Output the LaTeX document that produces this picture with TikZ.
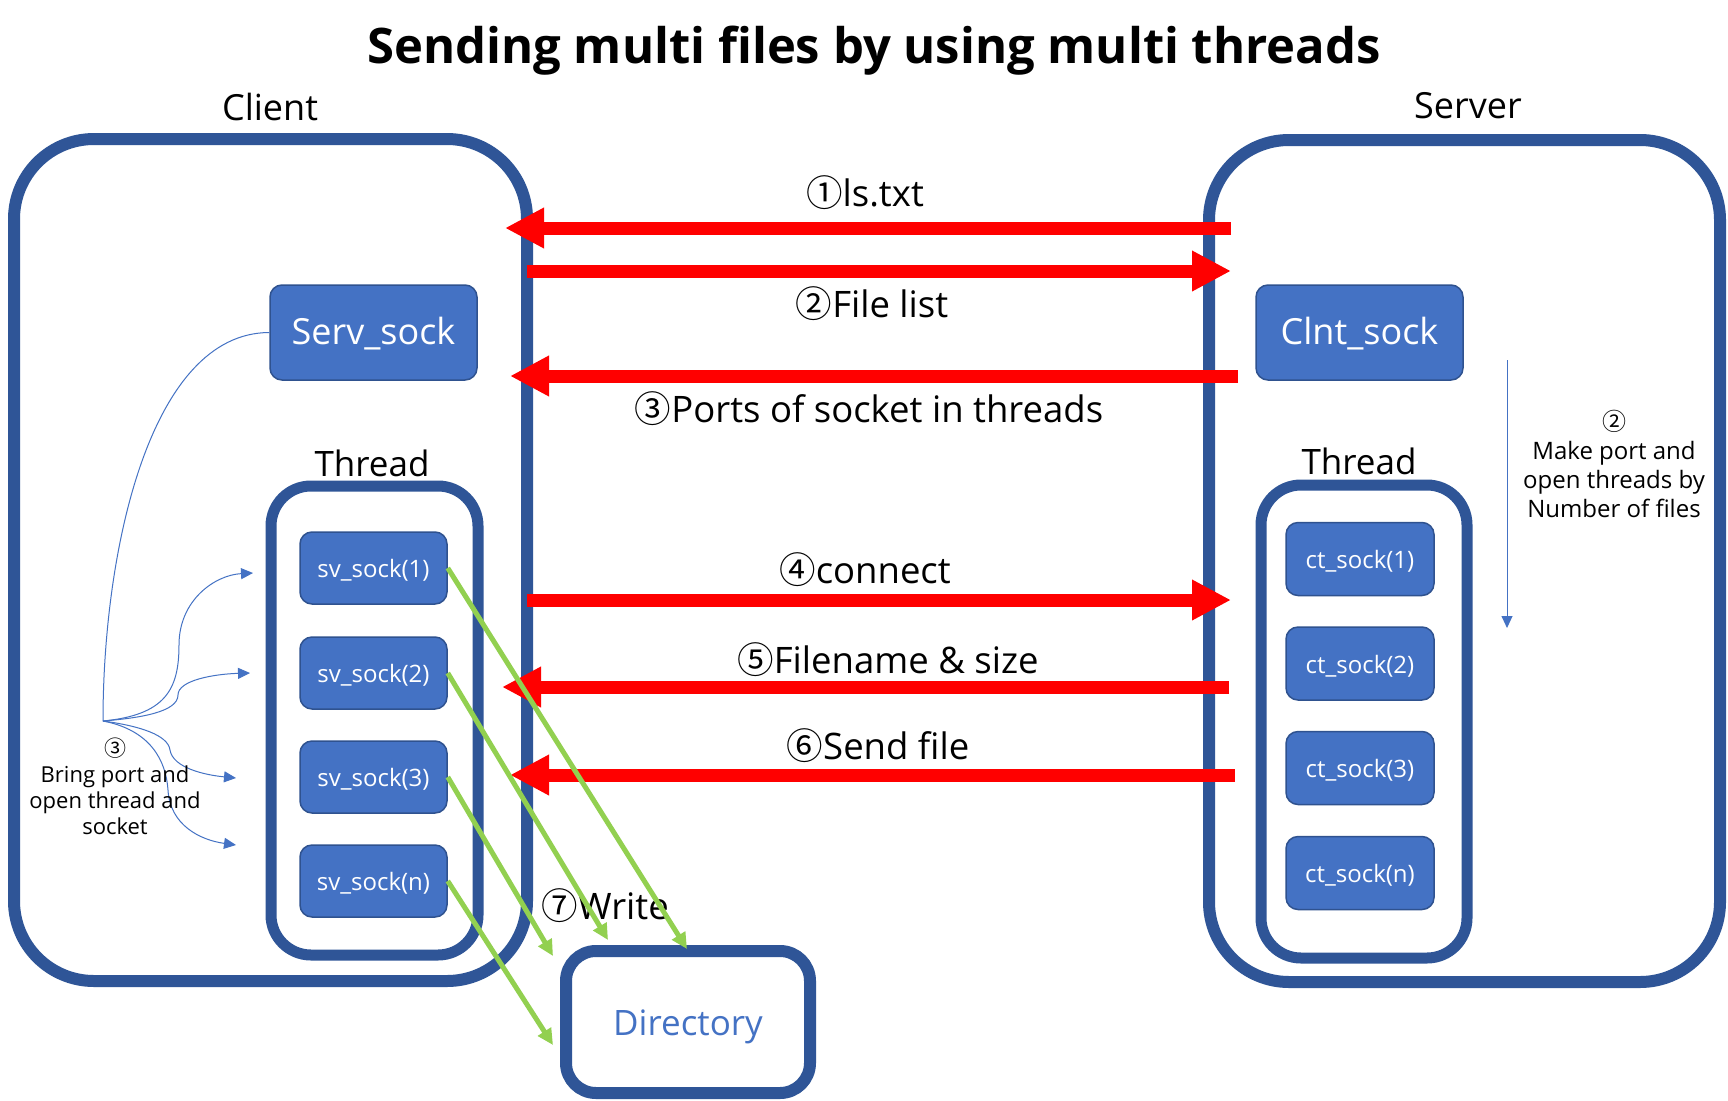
\documentclass[tikz,border=0pt]{standalone}
\usepackage{fontspec}
\setmainfont{Open Sans}
\newfontfamily\cjk{Noto Sans CJK KR}
\usetikzlibrary{arrows.meta}
\definecolor{boxblue}{HTML}{2F5597}
\definecolor{fillblue}{HTML}{4472C4}
\definecolor{edgeblue}{HTML}{2F528F}
\definecolor{lgreen}{HTML}{92D050}
\definecolor{arrred}{HTML}{FF0000}
\newcommand\cn[1]{{\cjk #1}}
\begin{document}
\begin{tikzpicture}[x=1pt,y=-1pt,
  bigbox/.style={draw=boxblue, line width=12pt, rounded corners=80pt, inner sep=0pt},
  thbox/.style={draw=boxblue, line width=11pt, rounded corners=40pt, inner sep=0pt},
  sockbox/.style={draw=edgeblue, fill=fillblue, line width=1.5pt, rounded corners=12pt, text=white, inner sep=0pt},
  smallsock/.style={sockbox, font=\fontsize{24}{28}\selectfont, text height=21pt, text depth=1.5pt},
  bigsock/.style={sockbox, minimum width=207pt, minimum height=95pt, font=\fontsize{36}{40}\selectfont, text height=28pt, text depth=3.4pt},
  dirbox/.style={draw=boxblue, line width=12pt, rounded corners=30pt, inner sep=0pt, text=fillblue, text height=29pt, text depth=1.4pt},
  redarr/.style={draw=arrred, line width=13pt, -{Triangle[length=39pt,width=38pt]}},
  grarr/.style={draw=lgreen, line width=5pt, -{Triangle[length=16pt,width=15pt]}},
  thinarr/.style={draw=fillblue, line width=1pt, -{Triangle[length=12pt,width=11pt]}},
  thinline/.style={draw=fillblue, line width=1pt},
  lbl/.style={font=\fontsize{36.5}{40}\selectfont, inner sep=0pt},
  thlbl/.style={font=\fontsize{35}{40}\selectfont, inner sep=0pt},
  small/.style={font=\fontsize{24}{29}\selectfont, inner sep=0pt, align=center},
]
\useasboundingbox (0,0) rectangle (1728,1100);
\fill[white] (0,0) rectangle (1728,1100);

% title and headings
\node[font=\bfseries\fontsize{49}{55}\selectfont, inner sep=0pt] (title) at (874,51) {Sending multi files by using multi threads};
\node[font=\fontsize{36}{40}\selectfont, inner sep=0pt] (clientlbl) at (270,107) {Client};
\node[font=\fontsize{36}{40}\selectfont, inner sep=0pt] (serverlbl) at (1468,106) {Server};

% big boxes
\node[bigbox, minimum width=513pt, minimum height=842pt] (client) at (270.5,560) {};
\node[bigbox, minimum width=511pt, minimum height=842pt] (server) at (1464.5,561) {};

% sockets
\node[bigsock] (serv) at (373.5,332.5) {Serv\_sock};
\node[bigsock] (clnt) at (1359.5,332.5) {Clnt\_sock};

% thread boxes
\node[thlbl] (thL) at (372,463) {Thread};
\node[thlbl] (thR) at (1359,461) {Thread};
\node[thbox, minimum width=207pt, minimum height=469pt] (threadL) at (374.5,720.5) {};
\node[thbox, minimum width=206pt, minimum height=473pt] (threadR) at (1364,721.5) {};

\foreach \i/\y/\t in {1/568/1,2/673/2,3/777/3,4/881/n}{
  \node[smallsock, minimum width=147pt, minimum height=72pt] (sv\i) at (373.5,\y) {sv\_sock(\t)};
}
\foreach \i/\y/\t in {1/559/1,2/663.5/2,3/768/3,4/873/n}{
  \node[smallsock, minimum width=148pt, minimum height=73pt] (ct\i) at (1360,\y) {ct\_sock(\t)};
}

% directory
\node[dirbox, minimum width=244pt, minimum height=142pt, font=\fontsize{35}{40}\selectfont] (dir) at (688,1022) {Directory};

% red arrows
\coordinate (r1a) at (1231,228); \coordinate (r1b) at (505,228);
\coordinate (r2a) at (527,271);  \coordinate (r2b) at (1231,271);
\coordinate (r3a) at (1238,376); \coordinate (r3b) at (510,376);
\coordinate (r4a) at (527,600);  \coordinate (r4b) at (1231,600);
\coordinate (r5a) at (1229,687); \coordinate (r5b) at (502,687);
\coordinate (r6a) at (1235,775); \coordinate (r6b) at (510,775);
\draw[redarr] (r1a) -- (r1b);
\draw[redarr] (r2a) -- (r2b);
\draw[redarr] (r3a) -- (r3b);
\draw[redarr] (r4a) -- (r4b);
\draw[redarr] (r5a) -- (r5b);
\draw[redarr] (r6a) -- (r6b);

\node[lbl] (l1) at (865,193) {\cn{①}ls.txt};
\node[lbl] (l2) at (872,304) {\cn{②}File list};
\node[lbl] (l3) at (869,409) {\cn{③}Ports of socket in threads};
\node[lbl] (l4) at (865,570) {\cn{④}connect};
\node[lbl] (l5) at (888,660) {\cn{⑤}Filename \& size};
\node[lbl] (l6) at (878,746) {\cn{⑥}Send file};
\node[lbl] (l7) at (605,906) {\cn{⑦}Write};

% green arrows
\coordinate (g1) at (687,949);
\coordinate (g2) at (608,940);
\coordinate (g3) at (553,956);
\coordinate (g4) at (553,1045);
\draw[grarr] (sv1.east) -- (g1);
\draw[grarr] (sv2.east) -- (g2);
\draw[grarr] (sv3.east) -- (g3);
\draw[grarr] (sv4.east) -- (g4);

% right annotation
\coordinate (ra1) at (1507,360);
\coordinate (ra2) at (1507,628);
\draw[thinarr] (ra1) -- (ra2);
\node[small] (noteR) at (1614,464) {\cn{②}\\Make port and\\open threads by\\Number of files};

% left annotation
\coordinate (hub) at (103,721);
\coordinate (ta) at (253,573);
\coordinate (tb) at (250,673);
\coordinate (tc) at (236,778);
\coordinate (td) at (236,845);
\draw[thinline] (serv.west) .. controls (150,333) and (103,550) .. (hub);
\draw[thinarr] (hub) .. controls (165,715) and (179,690) .. (179,645) .. controls (179,600) and (215,575) .. (ta);
\draw[thinarr] (hub) .. controls (140,718) and (178,712) .. (178,695) .. controls (178,680) and (215,674) .. (tb);
\draw[thinarr] (hub) .. controls (140,726) and (168,735) .. (170,750) .. controls (173,768) and (205,775) .. (tc);
\draw[thinarr] (hub) .. controls (150,730) and (166,760) .. (168,790) .. controls (170,825) and (200,840) .. (td);
\node[small, font=\fontsize{22}{26}\selectfont] (noteL) at (115,786) {\cn{③}\\Bring port and\\open thread and\\socket};
\end{tikzpicture}
\end{document}
